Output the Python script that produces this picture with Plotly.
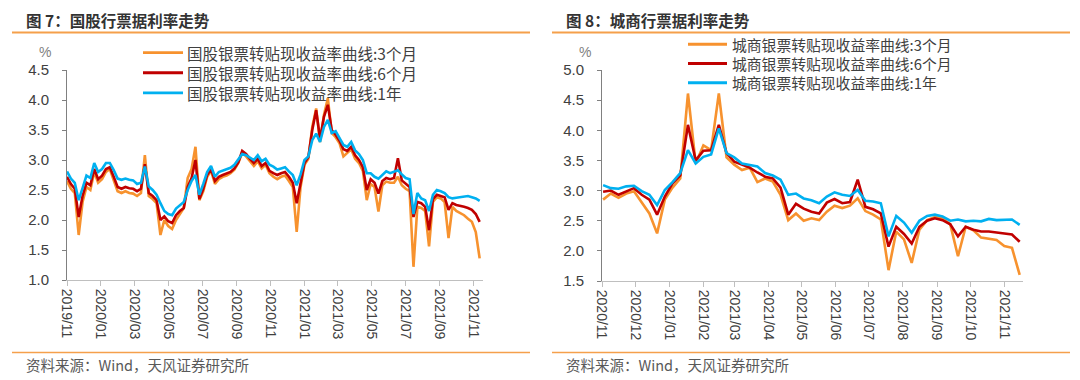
import pandas as pd
import plotly.graph_objects as go

# page is 1080x380, the browser body adds an 8px margin; the figure fills the rest
OFF = 8
FW, FH = 1080 - OFF, 380 - OFF

# ---------------- data ----------------
left_dates = pd.date_range("2019-11-01", periods=107, freq="7D")
left_3m = [2.65,2.52,2.45,1.75,2.30,2.55,2.50,2.80,2.62,2.68,
           2.80,2.85,2.66,2.48,2.45,2.48,2.45,2.44,2.40,2.45,
           3.08,2.40,2.35,2.28,1.75,2.00,1.90,1.85,2.00,2.10,
           2.20,2.70,2.85,3.22,2.33,2.48,2.72,2.82,2.60,2.68,
           2.72,2.74,2.78,2.84,2.95,3.12,3.06,2.98,2.90,2.98,
           2.86,2.92,2.78,2.72,
           2.68,2.72,2.74,2.65,2.55,1.80,2.55,2.92,3.02,3.55,
           3.86,3.30,3.75,4.03,3.45,3.38,3.28,3.06,3.12,3.18,
           3.02,2.95,2.82,2.33,2.60,2.55,2.14,2.58,2.64,2.62,
           2.62,2.72,2.58,2.52,2.48,1.22,2.22,2.20,2.15,1.56,
           2.30,2.38,2.36,2.30,1.70,2.22,2.15,2.11,2.08,2.02,
           1.97,1.80,1.36]
left_6m = [2.72,2.60,2.52,2.05,2.40,2.62,2.58,2.85,2.68,2.74,
           2.85,2.88,2.72,2.55,2.52,2.55,2.53,2.52,2.48,2.52,
           2.93,2.45,2.40,2.33,2.00,2.06,1.98,1.95,2.08,2.15,
           2.20,2.55,2.70,3.00,2.35,2.52,2.75,2.85,2.65,2.72,
           2.75,2.77,2.80,2.86,2.96,3.15,3.10,3.02,2.95,3.02,
           2.90,2.95,2.82,2.78,
           2.75,2.78,2.80,2.72,2.62,2.28,2.65,2.95,3.05,3.50,
           3.83,3.35,3.72,3.92,3.50,3.42,3.32,3.18,3.15,3.22,
           3.08,3.00,2.88,2.50,2.68,2.62,2.44,2.65,2.70,2.68,
           2.70,3.03,2.66,2.60,2.55,2.05,2.30,2.28,2.22,1.83,
           2.35,2.42,2.40,2.38,2.17,2.28,2.25,2.24,2.22,2.20,
           2.17,2.10,1.97]
left_1y = [2.81,2.69,2.62,2.33,2.53,2.74,2.70,2.95,2.80,2.85,
           2.95,2.95,2.83,2.69,2.67,2.69,2.67,2.66,2.60,2.62,
           2.89,2.56,2.50,2.42,2.28,2.15,2.10,2.08,2.19,2.25,
           2.30,2.50,2.65,2.75,2.42,2.60,2.80,2.90,2.72,2.80,
           2.82,2.84,2.87,2.92,3.00,3.10,3.08,3.04,3.00,3.08,
           2.98,3.02,2.92,2.89,
           2.84,2.86,2.88,2.81,2.75,2.58,2.76,3.00,3.06,3.33,
           3.44,3.30,3.55,3.67,3.45,3.48,3.36,3.25,3.22,3.30,
           3.16,3.10,3.00,2.78,2.78,2.72,2.69,2.75,2.81,2.78,
           2.80,2.83,2.76,2.70,2.68,2.10,2.45,2.36,2.33,2.15,
           2.42,2.50,2.48,2.45,2.38,2.36,2.37,2.38,2.40,2.40,
           2.38,2.36,2.32]

right_dates = pd.date_range("2020-11-02", periods=55, freq="7D")
right_3m = [2.85,2.95,2.88,2.95,2.99,2.80,2.62,2.29,2.85,3.05,
            3.20,4.61,3.45,3.75,3.67,4.61,3.55,3.43,3.34,3.38,
            3.14,3.20,3.15,2.93,2.51,2.62,2.50,
            2.54,2.51,2.65,2.75,2.71,2.75,2.87,2.66,2.60,2.52,
            1.68,2.32,2.19,1.80,2.35,2.51,2.56,2.54,2.44,1.91,
            2.40,2.34,2.22,2.20,2.18,2.08,2.05,1.60]
right_6m = [2.98,3.00,2.93,2.98,3.04,2.93,2.85,2.60,2.90,3.12,
            3.25,4.09,3.50,3.66,3.67,4.09,3.62,3.48,3.43,3.38,
            3.30,3.23,3.20,3.05,2.60,2.78,2.70,
            2.65,2.62,2.80,2.86,2.79,2.81,3.18,2.73,2.69,2.62,
            2.07,2.40,2.28,2.12,2.40,2.50,2.54,2.51,2.44,2.24,
            2.40,2.35,2.32,2.32,2.30,2.29,2.27,2.15]
right_1y = [3.09,3.04,3.03,3.07,3.08,2.99,2.93,2.76,3.01,3.14,
            3.29,3.67,3.45,3.56,3.60,4.03,3.62,3.55,3.45,3.42,
            3.40,3.29,3.25,3.18,2.93,2.95,2.87,
            2.84,2.79,2.90,2.97,2.93,2.91,3.01,2.83,2.82,2.79,
            2.24,2.58,2.47,2.30,2.50,2.58,2.60,2.57,2.50,2.52,
            2.49,2.50,2.49,2.53,2.51,2.51,2.52,2.43]

left_names = ["国股银票转贴现收益率曲线:3个月", "国股银票转贴现收益率曲线:6个月", "国股银票转贴现收益率曲线:1年"]
right_names = ["城商银票转贴现收益率曲线:3个月", "城商银票转贴现收益率曲线:6个月", "城商银票转贴现收益率曲线:1年"]
left_yticks = [1.0, 1.5, 2.0, 2.5, 3.0, 3.5, 4.0, 4.5]
right_yticks = [1.5, 2.0, 2.5, 3.0, 3.5, 4.0, 4.5, 5.0]

titles = ["图 7：国股行票据利率走势", "图 8：城商行票据利率走势"]
source = "资料来源：Wind，天风证券研究所"

# ---------------- style ----------------
COLORS = ["#F7922E", "#C00000", "#00B0F0"]
FONT = "Liberation Sans, Arial, Noto Sans CJK SC, sans-serif"
CJK = "Noto Sans CJK SC, Liberation Sans, sans-serif"
TXT = "#404040"

def px(x):
    return (x - OFF) / FW

def py(y):
    return 1 - (y - OFF) / FH

fig = go.Figure()
for vals, name, c in zip([left_3m, left_6m, left_1y], left_names, COLORS):
    fig.add_trace(go.Scatter(x=left_dates, y=vals, name=name, mode="lines",
                             line=dict(color=c, width=2.6), xaxis="x", yaxis="y"))
for vals, name, c in zip([right_3m, right_6m, right_1y], right_names, COLORS):
    fig.add_trace(go.Scatter(x=right_dates, y=vals, name=name, mode="lines",
                             line=dict(color=c, width=2.6), xaxis="x2", yaxis="y2"))

xcommon = dict(type="date", tickformat="%Y/%m", tickangle=90, showgrid=False,
               showline=True, linecolor="#BFBFBF", linewidth=1, ticks="outside",
               ticklen=5, tickcolor="#BFBFBF", zeroline=False, automargin=False,
               tickfont=dict(family=FONT, size=14, color=TXT))
ycommon = dict(showgrid=False, showline=True, linecolor="#808080", linewidth=1,
               ticks="outside", ticklen=4, tickcolor="#808080", zeroline=False,
               automargin=False, ticklabelstandoff=10,
               tickformat=".1f", tickfont=dict(family=FONT, size=15, color=TXT))

fig.update_layout(
    width=FW, height=FH, autosize=False,
    margin=dict(l=0, r=0, t=0, b=0, pad=0, autoexpand=False),
    paper_bgcolor="white", plot_bgcolor="white",
    showlegend=False,
    xaxis=dict(domain=[px(67), px(483)], range=["2019-11-01", "2021-11-18"],
               dtick="M2", tick0="2019-11-01", anchor="y", **xcommon),
    yaxis=dict(domain=[py(280), py(70)], range=[1.0, 4.5], tickvals=left_yticks,
               anchor="x", **ycommon),
    xaxis2=dict(domain=[px(602), px(1023)], range=["2020-11-01", "2021-11-18"],
                dtick="M1", tick0="2020-11-01", anchor="y2", **xcommon),
    yaxis2=dict(domain=[py(281), py(70)], range=[1.5, 5.0], tickvals=right_yticks,
                anchor="x2", **ycommon),
)

ann = []
shapes = []
# titles, sources
for x0, t in zip([25, 565], titles):
    ann.append(dict(x=px(x0), y=py(19.8), xref="paper", yref="paper", text="<b>" + t + "</b>",
                    showarrow=False, xanchor="left", yanchor="middle", borderpad=0,
                    font=dict(family=CJK, size=15.5, color="#333333")))
    ann.append(dict(x=px(x0 - 1), y=py(364), xref="paper", yref="paper", text=source,
                    showarrow=False, xanchor="left", yanchor="middle",
                    font=dict(family=CJK, size=14.5, color="#595959")))
for x0 in [45, 585]:
    ann.append(dict(x=px(x0), y=py(52), xref="paper", yref="paper", text="%",
                    showarrow=False, xanchor="center", yanchor="middle",
                    font=dict(family=FONT, size=14, color="#7F7F7F")))

# legends: line samples + one multi-line text block each
legend_specs = [
    (left_names, 143, 183, 185, 72.75, 15.5),
    (right_names, 688, 727, 730, 63.5, 14.8),
]
for names, lx0, lx1, tx, yc, fs in legend_specs:
    step = 1.3 * fs
    for i, c in enumerate(COLORS):
        yy = yc + (i - 1) * step
        shapes.append(dict(type="line", xref="paper", yref="paper", x0=px(lx0), x1=px(lx1),
                           y0=py(yy), y1=py(yy), line=dict(color=c, width=2.8)))
    ann.append(dict(x=px(tx), y=py(yc), xref="paper", yref="paper", text="<br>".join(names),
                    showarrow=False, xanchor="left", yanchor="middle", align="left",
                    font=dict(family=CJK, size=fs, color=TXT)))

# separator lines
for xa, xb in [(12, 530), (552, 1070)]:
    shapes.append(dict(type="line", xref="paper", yref="paper", x0=px(xa), x1=px(xb),
                       y0=py(32.5), y1=py(32.5), line=dict(color="#F5A04B", width=2)))
    shapes.append(dict(type="line", xref="paper", yref="paper", x0=px(xa), x1=px(xb),
                       y0=py(352.5), y1=py(352.5), line=dict(color="#F5A04B", width=1.5)))

fig.update_layout(annotations=ann, shapes=shapes)

fig.write_html("out.html")
